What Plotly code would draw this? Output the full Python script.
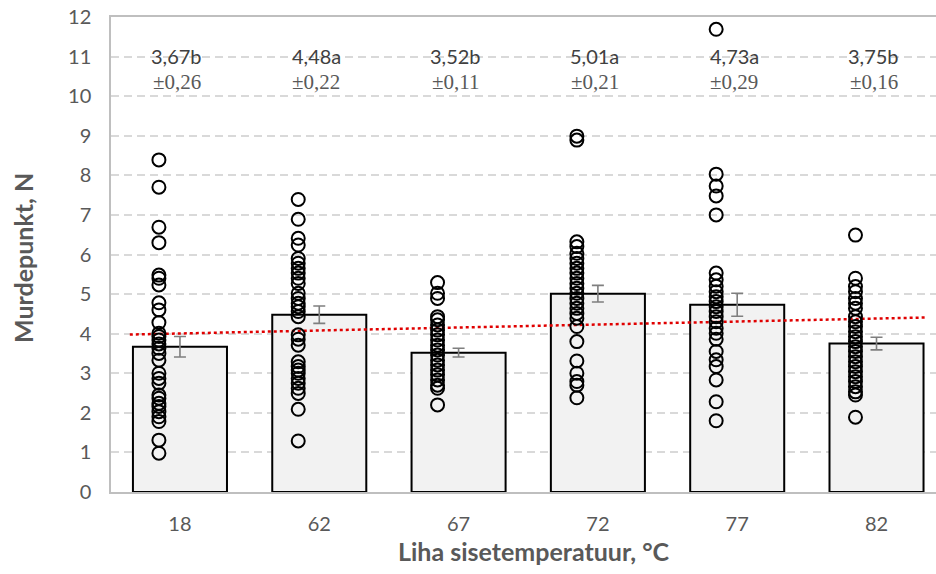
import numpy as np
import plotly.graph_objects as go

# Inner temperature groups (°C)
categories = ["18", "62", "67", "72", "77", "82"]

# Group means and standard errors of breaking force (N)
means = [3.67, 4.48, 3.52, 5.01, 4.73, 3.75]
errors = [0.26, 0.22, 0.11, 0.21, 0.29, 0.16]
letters = ["b", "a", "b", "a", "a", "b"]

# Individual measurements per group (N)
obs_18 = [8.39, 7.70, 6.69, 6.30, 5.48, 5.40, 5.23, 4.78, 4.60, 4.28, 4.01, 3.93,
          3.84, 3.74, 3.63, 3.50, 3.33, 3.00, 2.87, 2.75, 2.45, 2.37, 2.24, 2.16,
          2.03, 1.90, 1.78, 1.31, 0.98]
obs_62 = [7.39, 6.89, 6.41, 6.24, 5.90, 5.78, 5.65, 5.53, 5.40, 5.27, 5.02, 4.89,
          4.77, 4.68, 4.56, 4.43, 3.97, 3.86, 3.71, 3.29, 3.17, 3.08, 3.00, 2.87,
          2.75, 2.62, 2.49, 2.09, 1.29]
obs_67 = [5.29, 5.02, 4.89, 4.43, 4.35, 4.22, 4.09, 3.97, 3.84, 3.71, 3.59, 3.46,
          3.33, 3.21, 3.08, 2.96, 2.83, 2.70, 2.62, 2.20]
obs_72 = [8.99, 8.89, 6.32, 6.20, 6.03, 5.90, 5.78, 5.65, 5.53, 5.40, 5.27, 5.15,
          5.02, 4.89, 4.77, 4.64, 4.51, 4.39, 4.18, 3.80, 3.31, 3.00, 2.79, 2.70,
          2.38]
obs_77 = [11.69, 8.03, 7.73, 7.48, 7.00, 5.53, 5.36, 5.20, 5.06, 4.93, 4.81, 4.68,
          4.56, 4.43, 4.30, 4.14, 4.01, 3.86, 3.55, 3.34, 3.17, 2.83, 2.28, 1.80]
obs_82 = [6.49, 5.40, 5.19, 5.06, 4.89, 4.77, 4.64, 4.43, 4.30, 4.18, 4.05, 3.92,
          3.80, 3.67, 3.55, 3.42, 3.29, 3.17, 3.04, 2.91, 2.79, 2.66, 2.53, 2.45,
          1.89]
observations = [obs_18, obs_62, obs_67, obs_72, obs_77, obs_82]

y_ticks = list(range(0, 13))

GREY_TXT = "#595959"
DARK_TXT = "#404040"
SANS = "Lato, Open Sans, sans-serif"
SERIF = "Liberation Serif, Times New Roman, serif"

W, H = 936, 574
ML, MR, MT, MB = 111, 0, 17, 82
PW, PH = W - ML - MR, H - MT - MB


def px_to_paper(px, py):
    """Convert pixel coordinates (from top-left) to paper coordinates."""
    return (px - ML) / PW, (H - MB - py) / PH


idx = np.arange(len(categories))
fig = go.Figure()

# Mean bars with standard-error whiskers
fig.add_trace(go.Bar(
    x=idx, y=means, width=0.675,
    marker=dict(color="#f2f2f2", line=dict(color="#000000", width=2)),
    error_y=dict(type="data", array=errors, visible=True,
                 color="#7f7f7f", thickness=1.6, width=6),
    showlegend=False, hoverinfo="skip",
))

# Linear trend through the group means
slope, intercept = np.polyfit(idx, means, 1)
tx = np.array([-0.36, len(categories) - 1 + 0.35])
fig.add_trace(go.Scatter(
    x=tx, y=slope * tx + intercept, mode="lines",
    line=dict(color="#e00000", width=2.5, dash="3px,3px"),
    showlegend=False, hoverinfo="skip",
))

# Individual measurements, shifted slightly left of each bar centre
for i, vals in enumerate(observations):
    fig.add_trace(go.Scatter(
        x=[i - 0.151] * len(vals), y=vals, mode="markers",
        marker=dict(symbol="circle-open", size=13, color="#000000",
                    line=dict(width=2, color="#000000")),
        showlegend=False, hoverinfo="skip",
    ))

# Mean / SE labels above each group
for i in range(len(categories)):
    fig.add_annotation(
        x=i, y=11.02, xref="x", yref="y", showarrow=False, xshift=-3,
        text=f"{means[i]:.2f}".replace(".", ",") + letters[i],
        font=dict(family=SANS, size=20, color=DARK_TXT),
    )
    fig.add_annotation(
        x=i, y=10.37, xref="x", yref="y", showarrow=False, xshift=-3,
        text="±" + f"{errors[i]:.2f}".replace(".", ","),
        font=dict(family=SERIF, size=21, color=GREY_TXT),
    )

# Axis titles
tx_x, tx_y = px_to_paper(534, 551)
fig.add_annotation(
    x=tx_x, y=tx_y, xref="paper", yref="paper", showarrow=False,
    xanchor="center", yanchor="middle",
    text="<b>Liha sisetemperatuur, °C</b>",
    font=dict(family=SANS, size=25, color=GREY_TXT),
)
ty_x, ty_y = px_to_paper(23, 258)
fig.add_annotation(
    x=ty_x, y=ty_y, xref="paper", yref="paper", showarrow=False,
    xanchor="center", yanchor="middle", textangle=-90,
    text="<b>Murdepunkt, N</b>",
    font=dict(family=SANS, size=25, color=GREY_TXT),
)

fig.update_layout(
    width=W, height=H,
    margin=dict(l=ML, r=MR, t=MT, b=MB),
    paper_bgcolor="#ffffff", plot_bgcolor="#ffffff",
    xaxis=dict(
        range=[-0.495, 5.427], tickmode="array", tickvals=idx, ticktext=categories,
        showgrid=False, zeroline=False, ticks="",
        showline=True, linecolor="#bfbfbf", linewidth=1.5, mirror=True,
        tickfont=dict(family=SANS, size=20, color=GREY_TXT),
        ticklabelstandoff=13,
    ),
    yaxis=dict(
        range=[0, 12], tickmode="array", tickvals=y_ticks,
        showgrid=True, gridcolor="#d9d9d9", gridwidth=1.5, griddash="8px,5px",
        zeroline=False, ticks="",
        showline=True, linecolor="#bfbfbf", linewidth=1.5,
        tickfont=dict(family=SANS, size=20, color=GREY_TXT),
        ticklabelstandoff=14,
    ),
)

fig.write_html("out.html")
